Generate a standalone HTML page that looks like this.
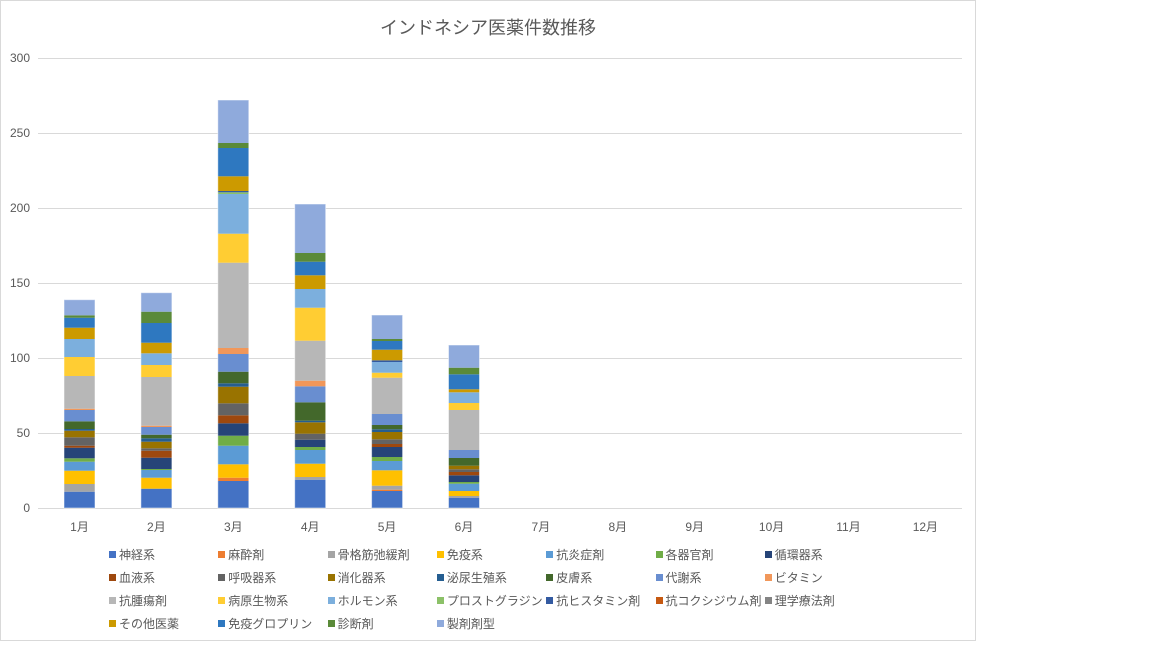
<!DOCTYPE html>
<html><head><meta charset="utf-8"><style>
body{margin:0;background:#fff;width:1152px;height:648px;overflow:hidden;font-family:"Liberation Sans","Noto Sans CJK JP",sans-serif;}
#frame{position:absolute;left:0;top:0;width:974px;height:639px;border:1px solid #d9d9d9;}
.t{position:absolute;color:#595959;font-size:12px;white-space:nowrap;}
.lg{position:absolute;font-size:12px;color:#595959;white-space:nowrap;}
.lg i{display:inline-block;width:7px;height:7px;margin-right:3px;vertical-align:1px;}
</style></head><body>
<div id="frame"></div>
<div class="t" style="left:0;width:976px;text-align:center;top:14px;font-size:18px;">インドネシア医薬件数推移</div>
<svg id="s" width="1152" height="648" style="position:absolute;left:0;top:0"></svg>
<div class="t" style="left:0;width:30px;text-align:right;top:51px">300</div>
<div class="t" style="left:0;width:30px;text-align:right;top:126px">250</div>
<div class="t" style="left:0;width:30px;text-align:right;top:201px">200</div>
<div class="t" style="left:0;width:30px;text-align:right;top:276px">150</div>
<div class="t" style="left:0;width:30px;text-align:right;top:351px">100</div>
<div class="t" style="left:0;width:30px;text-align:right;top:426px">50</div>
<div class="t" style="left:0;width:30px;text-align:right;top:501px">0</div>
<div id="xl"></div>
<div id="leg"></div>
<script>
var C={a:"#4472C4",b:"#ED7D31",c:"#A5A5A5",d:"#FFC000",e:"#5B9BD5",f:"#70AD47",g:"#264478",h:"#9E480E",i:"#636363",j:"#997300",k:"#255E91",l:"#43682B",m:"#698ED0",n:"#F1975A",o:"#B7B7B7",p:"#FFCD33",q:"#7CAFDD",r:"#8CC168",s:"#335AA1",t:"#C65911",u:"#848484",v:"#CC9A00",w:"#2E78C0",x:"#5A8A39",y:"#8FAADC"};
var B=[
[["a",491.7],["c",484],["d",470.7],["e",461.7],["f",458.3],["g",447.7],["h",445.7],["i",437.3],["j",430.7],["k",429],["l",421.3],["m",410],["n",408.7],["o",376],["p",357],["q",339],["v",327.7],["w",317.7],["x",315.3],["y",299.7]],
[["a",488.7],["d",477.7],["e",470],["f",469],["g",457.7],["h",450.7],["i",448.3],["j",441.7],["k",438.3],["l",434.7],["m",427],["n",425.7],["o",377],["p",365],["q",353.3],["v",342.7],["w",323],["x",311.7],["y",292.7]],
[["a",481],["b",477.7],["d",464.3],["e",445.7],["f",435.7],["g",423.3],["h",415.3],["i",403.3],["j",386.7],["k",383.3],["l",371.7],["m",354],["n",348],["o",262.7],["p",233.7],["q",194],["r",192.3],["s",191],["v",176.3],["w",148],["x",143],["y",100]],
[["a",479.7],["c",477],["d",463.7],["e",450],["f",447],["g",439.7],["i",433.7],["j",422.3],["k",420.7],["l",402.3],["m",386.3],["n",380.7],["o",340.7],["p",307.7],["q",289],["v",275.3],["w",261.7],["x",253],["y",204]],
[["a",491],["b",489.7],["c",485.7],["d",470.3],["e",461],["f",457],["g",447],["h",444],["i",439.3],["j",432],["k",429.3],["l",425],["m",414],["o",377.7],["p",372.7],["q",362],["s",360.3],["v",349.7],["w",341],["x",339],["y",315]],
[["a",497.7],["c",496],["d",491],["e",483.7],["f",482],["g",475.3],["h",472],["i",469.3],["j",465.7],["l",458],["m",450],["o",410],["p",403],["q",392.3],["v",389.3],["w",374.3],["x",367.7],["y",345]]
];
var h="";
[58,133,208,283,358,433].forEach(function(y){h+='<line x1="38" x2="962" y1="'+(y+.5)+'" y2="'+(y+.5)+'" stroke="#d9d9d9" stroke-width="1"/>';});
h+='<line x1="38" x2="962" y1="508.5" y2="508.5" stroke="#d9d9d9"/>';
B.forEach(function(bar,i){var cx=79.5+i*76.9,prev=508;bar.forEach(function(s){h+='<rect x="'+(cx-15.5)+'" y="'+s[1]+'" width="31" height="'+(prev-s[1])+'" fill="'+C[s[0]]+'"/>';prev=s[1];});
h+='<rect x="'+(cx-15.5)+'" y="'+prev+'" width="31" height="'+(508-prev)+'" fill="none" stroke="#fff" stroke-opacity="0.5" stroke-width="1"/>';});
document.getElementById("s").innerHTML=h;
var xl="";for(var i=0;i<12;i++){xl+='<div class="t" style="left:'+(79.5+i*76.9-30)+'px;width:60px;text-align:center;top:518px">'+(i+1)+'月</div>';}
document.getElementById("xl").innerHTML=xl;
var L=[["a","神経系"],["b","麻酔剤"],["c","骨格筋弛緩剤"],["d","免疫系"],["e","抗炎症剤"],["f","各器官剤"],["g","循環器系"],["h","血液系"],["i","呼吸器系"],["j","消化器系"],["k","泌尿生殖系"],["l","皮膚系"],["m","代謝系"],["n","ビタミン"],["o","抗腫瘍剤"],["p","病原生物系"],["q","ホルモン系"],["r","プロストグラジン"],["s","抗ヒスタミン剤"],["t","抗コクシジウム剤"],["u","理学療法剤"],["v","その他医薬"],["w","免疫グロプリン"],["x","診断剤"],["y","製剤剤型"]];
var lg="";L.forEach(function(e,k){var c=k%7,r=Math.floor(k/7);lg+='<div class="lg" style="left:'+(109+c*109.3)+'px;top:'+(546+r*23)+'px"><i style="background:'+C[e[0]]+'"></i>'+e[1]+'</div>';});
document.getElementById("leg").innerHTML=lg;
</script>
</body></html>
